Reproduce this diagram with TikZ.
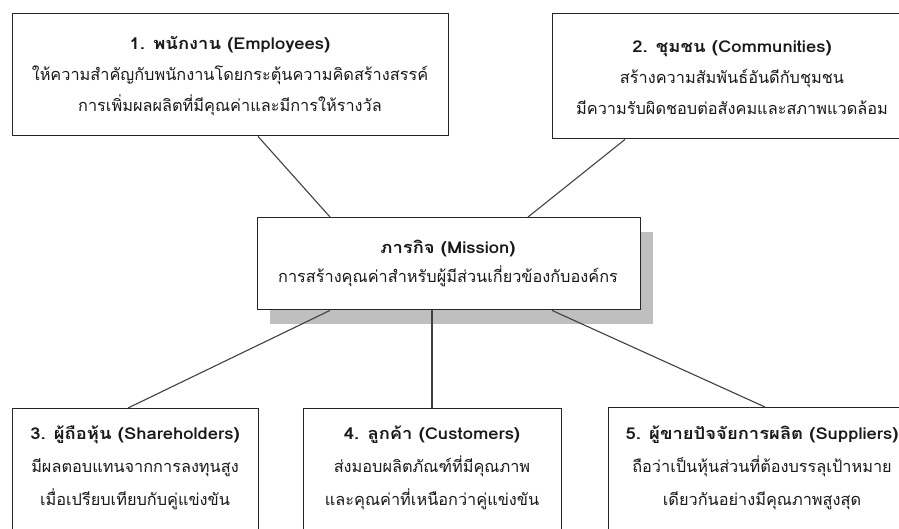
\documentclass[tikz,border=0pt]{standalone}
\usepackage{fontspec}
\setmainfont[Script=Thai]{Loma}
\newfontfamily\headfont[Script=Thai, FakeStretch=1.13]{Loma}
\newcommand{\hd}[1]{{\headfont\bfseries #1}}
\begin{document}
\begin{tikzpicture}[x=1pt,y=-1pt,
  box/.style={draw=black!85, line width=1.4pt, fill=white, inner sep=0pt, anchor=north west},
  txt/.style={align=center, inner sep=0pt, text=black!90, font=\fontsize{16.3}{31}\selectfont},
  conn/.style={draw=black!75, line width=1.1pt}]
\useasboundingbox (0,0) rectangle (899,528);
\clip (0,0) rectangle (899,528);
% boxes
\node[box, minimum width=436pt, minimum height=122pt] (b1) at (12,13) {};
\node[box, minimum width=360pt, minimum height=125pt] (b2) at (552,13) {};
\fill[black!25] (270,232) rectangle (653,324);
\node[box, minimum width=383pt, minimum height=92pt] (m) at (257,217) {};
\node[box, minimum width=246pt, minimum height=140pt] (b3) at (12,408) {};
\node[box, minimum width=258pt, minimum height=140pt] (b4) at (303,408) {};
\node[box, minimum width=307pt, minimum height=141pt] (b5) at (608,407) {};
% texts
\node[txt] (t1) at (230,76) {\hd{1. พนักงาน (Employees)}\\ให้ความสำคัญกับพนักงานโดยกระตุ้นความคิดสร้างสรรค์\\การเพิ่มผลผลิตที่มีคุณค่าและมีการให้รางวัล};
\node[txt] (t2) at (732,78) {\hd{2. ชุมชน (Communities)}\\สร้างความสัมพันธ์อันดีกับชุมชน\\มีความรับผิดชอบต่อสังคมและสภาพแวดล้อม};
\node[txt, font=\fontsize{16.3}{29}\selectfont] (tm) at (448,263) {\hd{ภารกิจ (Mission)}\\การสร้างคุณค่าสำหรับผู้มีส่วนเกี่ยวข้องกับองค์กร};
\node[txt, font=\fontsize{16.3}{33}\selectfont] (t3) at (135,468) {\hd{3. ผู้ถือหุ้น (Shareholders)}\\มีผลตอบแทนจากการลงทุนสูง\\เมื่อเปรียบเทียบกับคู่แข่งขัน};
\node[txt, font=\fontsize{16.3}{33}\selectfont] (t4) at (432,468) {\hd{4. ลูกค้า (Customers)}\\ส่งมอบผลิตภัณฑ์ที่มีคุณภาพ\\และคุณค่าที่เหนือกว่าคู่แข่งขัน};
\node[txt, font=\fontsize{16.3}{33}\selectfont] (t5) at (762,468) {\hd{5. ผู้ขายปัจจัยการผลิต (Suppliers)}\\ถือว่าเป็นหุ้นส่วนที่ต้องบรรลุเป้าหมาย\\เดียวกันอย่างมีคุณภาพสูงสุด};
% connectors
\draw[conn] ([xshift=246pt]b1.south west) -- ([xshift=73pt]m.north west);
\draw[conn] ([xshift=73pt]b2.south west) -- ([xshift=271pt]m.north west);
\draw[conn] ([xshift=73pt]m.south west) -- ([xshift=116pt]b3.north west);
\draw[conn] ([xshift=175pt]m.south west) -- ([xshift=129pt]b4.north west);
\draw[conn] ([xshift=295pt]m.south west) -- ([xshift=157pt]b5.north west);
\end{tikzpicture}
\end{document}
